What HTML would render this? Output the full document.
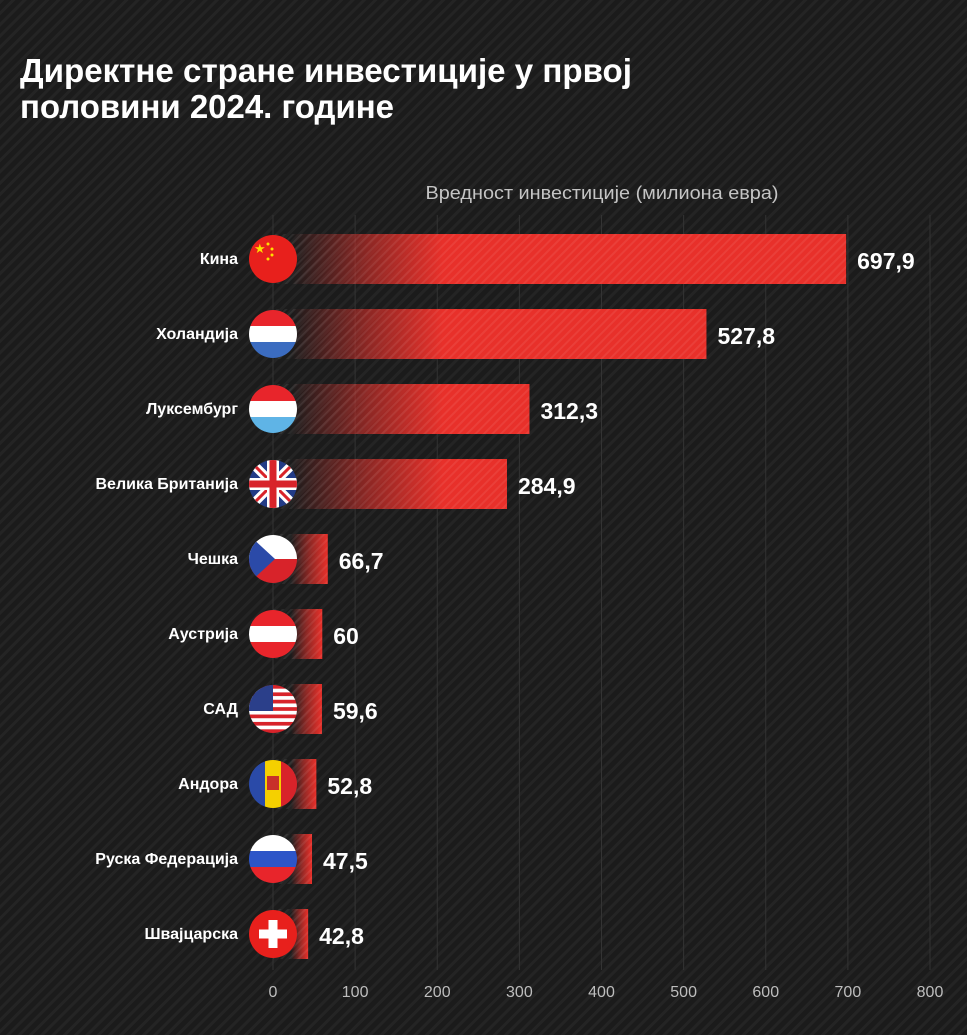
<!DOCTYPE html>
<html><head><meta charset="utf-8"><style>
html,body{margin:0;padding:0;background:#1b1b1b;}
svg{display:block;font-family:"Liberation Sans",sans-serif;}
</style></head><body>
<svg id="chart" width="967" height="1035" viewBox="0 0 967 1035" xmlns="http://www.w3.org/2000/svg">
<defs>
<pattern id="bgStripes" patternUnits="userSpaceOnUse" width="8" height="8" patternTransform="rotate(45)">
<rect width="8" height="8" fill="#1b1b1b"/><rect width="3" height="8" fill="#242424"/>
</pattern>
<pattern id="barStripes" patternUnits="userSpaceOnUse" width="6" height="6" patternTransform="rotate(45)">
<rect width="6" height="6" fill="rgba(0,0,0,0)"/><rect width="2" height="6" fill="rgba(255,255,255,0.07)"/>
</pattern>
<clipPath id="flagClip"><circle cx="0" cy="0" r="24"/></clipPath>
</defs>
<rect width="967" height="1035" fill="url(#bgStripes)"/>
<text x="20" y="82" fill="#fff" font-size="33" font-weight="bold" textLength="612" lengthAdjust="spacingAndGlyphs">Директне стране инвестиције у првој</text>
<text x="20" y="118" fill="#fff" font-size="33" font-weight="bold" textLength="374" lengthAdjust="spacingAndGlyphs">половини 2024. године</text>
<text x="602" y="199" fill="#c4c4c4" font-size="18" text-anchor="middle" textLength="353" lengthAdjust="spacingAndGlyphs">Вредност инвестиције (милиона евра)</text>
<g id="grid"></g><g id="bars"></g><g id="ticks"></g>
</svg>
<script>
const countries=["Кина","Холандија","Луксембург","Велика Британија","Чешка","Аустрија","САД","Андора","Руска Федерација","Швајцарска"];
const values=[697.9,527.8,312.3,284.9,66.7,60,59.6,52.8,47.5,42.8];
const valueLabels=["697,9","527,8","312,3","284,9","66,7","60","59,6","52,8","47,5","42,8"];
const flagCodes=["cn","nl","lu","gb","cz","at","us","ad","ru","ch"];
const tickValues=[0,100,200,300,400,500,600,700,800];
const NS="http://www.w3.org/2000/svg";
const x=v=>273+v*(930-273)/800;
const y=i=>259+i*75;
function el(t,a,p){const e=document.createElementNS(NS,t);for(const k in a)e.setAttribute(k,a[k]);p.appendChild(e);return e;}
const svg=document.getElementById('chart');
const grid=document.getElementById('grid'),bars=document.getElementById('bars'),ticks=document.getElementById('ticks');
const defs=svg.querySelector('defs');
tickValues.forEach(t=>{
 const l=el('line',{x1:x(t),x2:x(t),y1:215,y2:970,stroke:'#333','stroke-width':1},grid);
 
 
 const tx=el('text',{x:x(t),y:997,fill:'#bdbdbd','font-size':16,'text-anchor':'middle'},ticks);
 tx.textContent=t;
 
 
});
function flag(code,g){
 const R=24;const r=(xx,yy,w,h,f)=>el('rect',{x:xx,y:yy,width:w,height:h,fill:f},g);
 const h3=(a,b,c)=>{r(-R,-R,48,16,a);r(-R,-8,48,16,b);r(-R,8,48,16,c);};
 if(code==='cn'){r(-R,-R,48,48,'#e8201c');el('text',{x:-19,y:-6,fill:'#ffde00','font-size':13},g).textContent='★';
  [[-5,-15],[-1,-10],[-1,-4],[-5,0]].forEach(p=>el('circle',{cx:p[0],cy:p[1],r:1.5,fill:'#ffde00'},g));}
 if(code==='nl')h3('#e8252b','#fff','#3b6cc0');
 if(code==='lu')h3('#e8252b','#fff','#5fb4e6');
 if(code==='ru')h3('#fff','#2d55c8','#e8252b');
 if(code==='at')h3('#e8252b','#fff','#e8252b');
 if(code==='gb'){r(-R,-R,48,48,'#223b86');
  el('path',{d:'M-24,-24L24,24M24,-24L-24,24',stroke:'#fff','stroke-width':9},g);
  el('path',{d:'M-24,-24L24,24M24,-24L-24,24',stroke:'#d8232a','stroke-width':3},g);
  r(-24,-6,48,12,'#fff');r(-6,-24,12,48,'#fff');r(-24,-3.5,48,7,'#d8232a');r(-3.5,-24,7,48,'#d8232a');}
 if(code==='cz'){r(-R,-R,48,24,'#fff');r(-R,0,48,24,'#d8232a');el('path',{d:'M-24,-24L2,0L-24,24Z',fill:'#2b4aa8'},g);}
 if(code==='us'){for(let k=0;k<13;k++)r(-R,-R+k*48/13,48,48/13+0.3,k%2?'#fff':'#d8232a');r(-R,-R,24,26,'#2b3f8a');}
 if(code==='ad'){r(-R,-R,16,48,'#2a4aa8');r(-8,-R,16,48,'#f5d000');r(8,-R,16,48,'#d8232a');r(-6,-8,12,14,'#c8302a');}
 if(code==='ch'){r(-R,-R,48,48,'#e8201c');r(-14,-4.5,28,9,'#fff');r(-4.5,-14,9,28,'#fff');}
}
countries.forEach((c,i)=>{
 const cy=y(i),w=x(values[i])-x(0);
 const gid='grad'+i;
 const gr=el('linearGradient',{id:gid,gradientUnits:'userSpaceOnUse',x1:x(0)+18,x2:x(0)+Math.min(170,Math.max(w,20)),y1:0,y2:0},defs);
 el('stop',{offset:0,'stop-color':'#e8302a','stop-opacity':0},gr);
 el('stop',{offset:0.5,'stop-color':'#e8302a','stop-opacity':0.55},gr);
 el('stop',{offset:1,'stop-color':'#e8302a','stop-opacity':1},gr);
 const b=el('rect',{x:x(0),y:cy-25,width:w,height:50,fill:'url(#'+gid+')'},bars);
 
 
 el('rect',{x:x(0),y:cy-25,width:w,height:50,fill:'url(#barStripes)'},bars);
 const g=el('g',{transform:'translate('+x(0)+','+cy+')','clip-path':'url(#flagClip)'},bars);
 
 
 flag(flagCodes[i],g);
 const lb=el('text',{x:238,y:cy+5,fill:'#fff','font-size':16,'font-weight':'bold','text-anchor':'end'},bars);
 lb.textContent=c;
 
 
 const vt=el('text',{x:x(values[i])+11,y:cy+10,fill:'#fff','font-size':23,'font-weight':'bold'},bars);
 vt.textContent=valueLabels[i];
 
 
});
</script>
</body></html>
